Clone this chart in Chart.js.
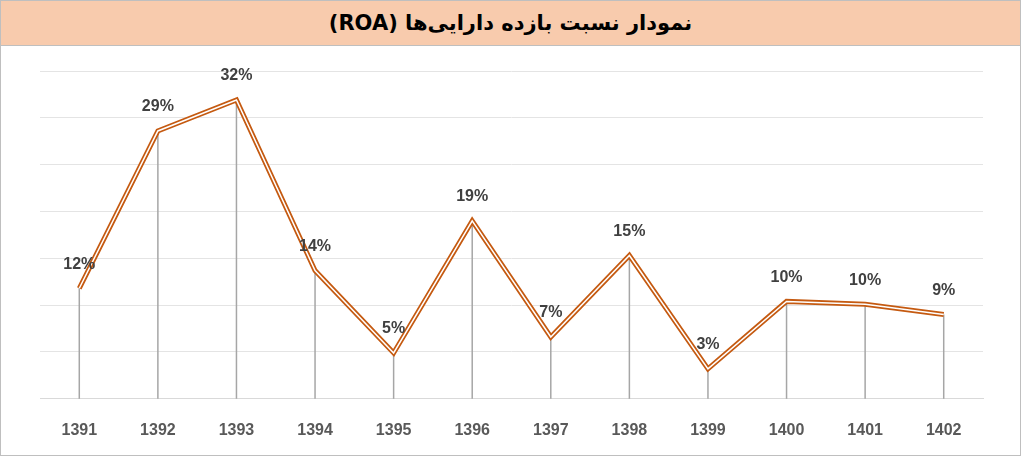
<!DOCTYPE html>
<html>
<head>
<meta charset="utf-8">
<style>
  html, body { margin: 0; padding: 0; background: #fff; }
  #wrap { position: relative; width: 1019px; height: 454px; border: 1px solid #bfbfbf; }
  #title { height: 44px; background: #F8CBAD; border-bottom: 1px solid #bfbfbf; text-align: center;
           font: bold 21px "DejaVu Sans", "Noto Sans", sans-serif; line-height: 44px; color: #000; direction: rtl; }
  #chartBox { position: absolute; left: 0; top: 45px; width: 1019px; height: 409px; }
</style>
</head>
<body>
<div id="wrap">
  <div id="title">نمودار نسبت بازده دارایی‌ها (ROA)</div>
  <div id="chartBox"><canvas id="myChart"></canvas></div>
</div>
<script src="https://cdn.jsdelivr.net/npm/chart.js"></script>
<script>
const years = ['1391','1392','1393','1394','1395','1396','1397','1398','1399','1400','1401','1402'];
const roa = [11.8, 28.6, 31.9, 13.7, 4.9, 19.0, 6.6, 15.3, 3.2, 10.4, 10.1, 9.0];
const roaLabels = ['12%','29%','32%','14%','5%','19%','7%','15%','3%','10%','10%','9%'];

const dropLines = {
  id: 'dropLines',
  beforeDatasetsDraw(chart) {
    const ctx = chart.ctx;
    const meta = chart.getDatasetMeta(0);
    const bottom = chart.scales.y.getPixelForValue(0);
    ctx.save();
    ctx.strokeStyle = '#a6a6a6';
    ctx.lineWidth = 1.5;
    meta.data.forEach(p => {
      ctx.beginPath();
      ctx.moveTo(p.x, p.y);
      ctx.lineTo(p.x, bottom);
      ctx.stroke();
    });
    ctx.restore();
  }
};

const valueLabels = {
  id: 'valueLabels',
  afterDatasetsDraw(chart) {
    const ctx = chart.ctx;
    const meta = chart.getDatasetMeta(0);
    ctx.save();
    ctx.font = 'bold 16px "Liberation Sans", Arial, sans-serif';
    ctx.fillStyle = '#404040';
    ctx.textAlign = 'center';
    ctx.textBaseline = 'bottom';
    meta.data.forEach((p, i) => {
      ctx.fillText(roaLabels[i], p.x, p.y - 16);
    });
    ctx.restore();
  }
};

new Chart(document.getElementById('myChart'), {
  type: 'line',
  data: {
    labels: years,
    datasets: [
      { data: roa, borderColor: '#C55A11', borderWidth: 5, pointRadius: 0, tension: 0, order: 2 },
      { data: roa, borderColor: '#ffffff', borderWidth: 1.5, pointRadius: 0, tension: 0, order: 1 }
    ]
  },
  options: {
    responsive: true,
    maintainAspectRatio: false,
    animation: false,
    layout: { padding: { left: 39, right: 37, top: 25, bottom: 1 } },
    plugins: { legend: { display: false }, tooltip: { enabled: false } },
    scales: {
      x: {
        offset: true,
        grid: { display: false },
        border: { color: '#d9d9d9' },
        ticks: { color: '#595959', font: { family: '"Liberation Sans", Arial, sans-serif', size: 16, weight: 'bold' }, padding: 14 }
      },
      y: {
        min: 0, max: 35,
        ticks: { display: false, stepSize: 5 },
        grid: { color: '#e4e4e4', lineWidth: 1, drawTicks: false },
        border: { display: false }
      }
    }
  },
  plugins: [dropLines, valueLabels]
});
</script>
</body>
</html>
